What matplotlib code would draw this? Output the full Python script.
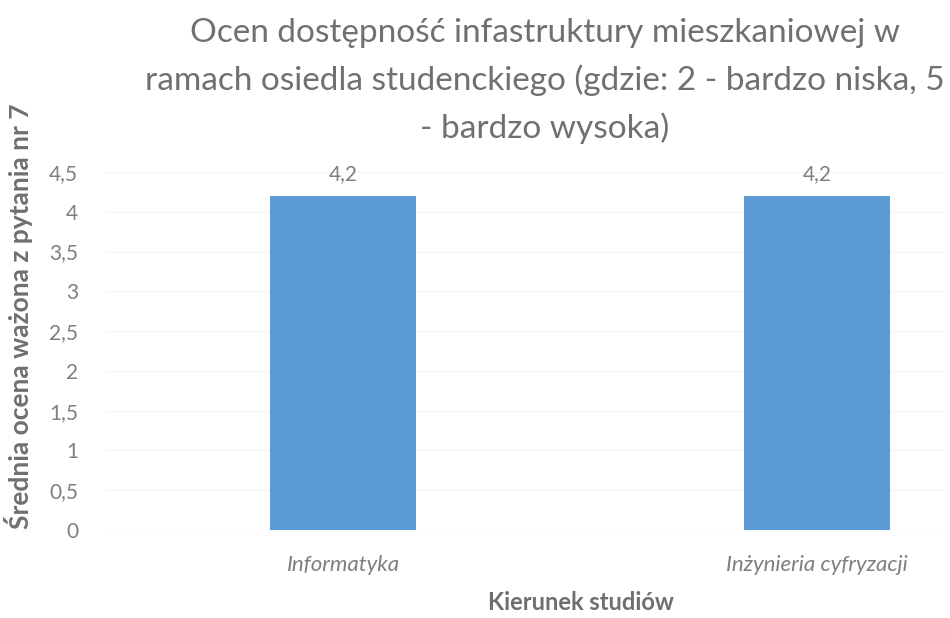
import matplotlib.pyplot as plt
from matplotlib.ticker import MultipleLocator, FuncFormatter

# Dane
kierunki = ["Informatyka", "Inżynieria cyfryzacji"]
oceny = [4.2, 4.2]

szary = "#7f7f7f"
niebieski = "#5b9bd5"

plt.rcParams['font.family'] = ['Lato', 'DejaVu Sans']

fig = plt.figure(figsize=(9.5, 6.18), dpi=100)
ax = fig.add_axes([106 / 950, 1 - 530 / 618, (945 - 106) / 950, (530 - 172) / 618])

pozycje = list(range(len(kierunki)))
ax.bar(pozycje, oceny, width=0.31, color=niebieski, zorder=2)

# etykiety danych
for x, v in zip(pozycje, oceny):
    ax.text(x, v + 0.15, str(v).replace('.', ','), ha='center', va='bottom',
            fontsize=15, color=szary)

ax.set_xlim(-0.5, 1.27)
ax.set_ylim(0, 4.5)
ax.yaxis.set_major_locator(MultipleLocator(0.5))
ax.yaxis.set_major_formatter(FuncFormatter(lambda v, p: ('%g' % v).replace('.', ',')))
ax.grid(axis='y', color='#f4f4f4', linewidth=1, zorder=0)

ax.set_xticks(pozycje)
ax.set_xticklabels(kierunki, fontstyle='italic')
ax.tick_params(axis='x', length=0, labelsize=16, labelcolor=szary, pad=18)
ax.tick_params(axis='y', length=0, labelsize=15, labelcolor=szary, pad=20)

for s in ax.spines.values():
    s.set_visible(False)

ax.set_xlabel("Kierunek studiów", fontsize=17, fontweight='bold', color='#6f6f6f', va='center')
ax.xaxis.set_label_coords((581 - 106) / (945 - 106), -(603 - 530) / (530 - 172))
ax.set_ylabel("Średnia ocena ważona z pytania nr 7", fontsize=19, fontweight='bold', color='#6f6f6f', va='center')
ax.yaxis.set_label_coords(-(106 - 19) / (945 - 106), (530 - 316) / (530 - 172))

fig.text(545 / 950, 1 - 81 / 618,
         "Ocen dostępność infastruktury mieszkaniowej w\nramach osiedla studenckiego (gdzie: 2 - bardzo niska, 5\n- bardzo wysoka)",
         ha='center', va='center', fontsize=24, color='#707070', linespacing=1.65)

fig.savefig("out.png", dpi=100)
